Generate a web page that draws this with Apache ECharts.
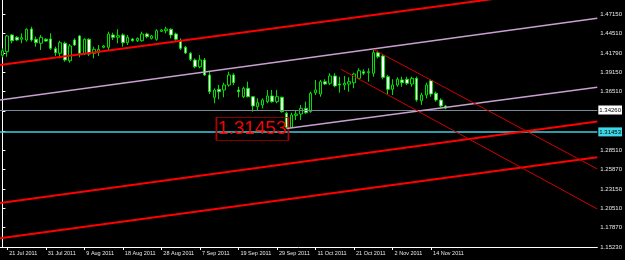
<!DOCTYPE html>
<html><head><meta charset="utf-8">
<script src="https://cdn.jsdelivr.net/npm/echarts@6/dist/echarts.min.js"></script>
<style>html,body{margin:0;padding:0;background:#000}#c{width:625px;height:260px}</style>
</head><body><div id="c"></div>
<script>
// ---- data ----
const dates = ['20 Jul 2011','21 Jul 2011','22 Jul 2011','24 Jul 2011','25 Jul 2011','26 Jul 2011','27 Jul 2011','28 Jul 2011','29 Jul 2011','31 Jul 2011',
'1 Aug 2011','2 Aug 2011','3 Aug 2011','4 Aug 2011','5 Aug 2011','7 Aug 2011','8 Aug 2011','9 Aug 2011','10 Aug 2011','11 Aug 2011','12 Aug 2011','14 Aug 2011','15 Aug 2011','16 Aug 2011','17 Aug 2011','18 Aug 2011','19 Aug 2011','21 Aug 2011','22 Aug 2011','23 Aug 2011','24 Aug 2011','25 Aug 2011','26 Aug 2011','28 Aug 2011','29 Aug 2011','30 Aug 2011','31 Aug 2011',
'1 Sep 2011','2 Sep 2011','5 Sep 2011','6 Sep 2011','7 Sep 2011','8 Sep 2011','9 Sep 2011','12 Sep 2011','13 Sep 2011','14 Sep 2011','15 Sep 2011','16 Sep 2011','19 Sep 2011','20 Sep 2011','21 Sep 2011','22 Sep 2011','23 Sep 2011','26 Sep 2011','27 Sep 2011','28 Sep 2011','29 Sep 2011','30 Sep 2011',
'3 Oct 2011','4 Oct 2011','5 Oct 2011','6 Oct 2011','7 Oct 2011','10 Oct 2011','11 Oct 2011','12 Oct 2011','13 Oct 2011','14 Oct 2011','17 Oct 2011','18 Oct 2011','19 Oct 2011','20 Oct 2011','21 Oct 2011','24 Oct 2011','25 Oct 2011','26 Oct 2011','27 Oct 2011','28 Oct 2011','31 Oct 2011',
'1 Nov 2011','2 Nov 2011','3 Nov 2011','4 Nov 2011','7 Nov 2011','8 Nov 2011','9 Nov 2011','10 Nov 2011','11 Nov 2011','14 Nov 2011','15 Nov 2011','16 Nov 2011','17 Nov 2011'];
const futureSlots = 31;
const xLabels = ['21 Jul 2011','31 Jul 2011','9 Aug 2011','18 Aug 2011','28 Aug 2011','7 Sep 2011','19 Sep 2011','29 Sep 2011','11 Oct 2011','21 Oct 2011','2 Nov 2011','14 Nov 2011'];
// [open, close, low, high]
const ohlc = [
[1.4149,1.4212,1.4122,1.4245],[1.4199,1.4414,1.4130,1.4428],[1.4428,1.4349,1.4314,1.4441],[1.4396,1.4359,1.4349,1.4414],
[1.4369,1.4391,1.4314,1.4450],[1.4359,1.4506,1.4336,1.4519],[1.4510,1.4359,1.4336,1.4541],[1.4369,1.4322,1.4267,1.4405],
[1.4314,1.4396,1.4222,1.4428],[1.4369,1.4345,1.4336,1.4382],[1.4373,1.4245,1.4222,1.4450],[1.4240,1.4185,1.4140,1.4267],
[1.4177,1.4322,1.4108,1.4349],[1.4314,1.4085,1.4062,1.4336],[1.4075,1.4277,1.4048,1.4304],[1.4359,1.4290,1.4277,1.4382],
[1.4414,1.4177,1.4122,1.4428],[1.4167,1.4369,1.4153,1.4382],[1.4369,1.4167,1.4140,1.4382],[1.4177,1.4231,1.4108,1.4267],
[1.4195,1.4231,1.4140,1.4290],[1.4259,1.4277,1.4245,1.4290],[1.4259,1.4441,1.4222,1.4473],[1.4428,1.4396,1.4359,1.4459],
[1.4396,1.4418,1.4314,1.4506],[1.4428,1.4322,1.4267,1.4450],[1.4322,1.4396,1.4290,1.4428],[1.4373,1.4349,1.4336,1.4386],
[1.4349,1.4382,1.4332,1.4393],[1.4349,1.4441,1.4336,1.4473],[1.4441,1.4405,1.4382,1.4459],[1.4382,1.4414,1.4366,1.4428],
[1.4369,1.4487,1.4349,1.4506],[1.4478,1.4496,1.4468,1.4506],[1.4487,1.4510,1.4450,1.4541],[1.4506,1.4428,1.4382,1.4519],
[1.4441,1.4369,1.4349,1.4459],[1.4349,1.4245,1.4222,1.4382],[1.4259,1.4181,1.4167,1.4277],[1.4177,1.4095,1.4071,1.4195],
[1.4085,1.3993,1.3971,1.4108],[1.3993,1.4085,1.3971,1.4153],[1.4085,1.3879,1.3866,1.4112],[1.3880,1.3651,1.3619,1.3925],
[1.3574,1.3674,1.3492,1.3697],[1.3684,1.3651,1.3547,1.3742],[1.3674,1.3742,1.3574,1.3774],[1.3742,1.3880,1.3719,1.3925],
[1.3880,1.3774,1.3742,1.3903],[1.3674,1.3651,1.3574,1.3719],[1.3582,1.3697,1.3564,1.3719],[1.3697,1.3582,1.3574,1.3788],
[1.3582,1.3455,1.3377,1.3592],[1.3445,1.3500,1.3400,1.3560],[1.3469,1.3537,1.3423,1.3560],[1.3514,1.3592,1.3492,1.3674],
[1.3592,1.3514,1.3500,1.3674],[1.3514,1.3582,1.3492,1.3674],[1.3574,1.3377,1.3363,1.3582],[1.3355,1.3163,1.31453,1.3377],
[1.3163,1.3332,1.3150,1.3363],[1.3327,1.3345,1.3263,1.3400],[1.3345,1.3423,1.3263,1.3469],[1.3423,1.3363,1.3345,1.3514],
[1.3377,1.3629,1.3363,1.3651],[1.3637,1.3674,1.3605,1.3811],[1.3619,1.3788,1.3582,1.3811],[1.3788,1.3756,1.3742,1.3821],
[1.3766,1.3866,1.3742,1.3903],[1.3866,1.3729,1.3711,1.3903],[1.3756,1.3742,1.3637,1.3856],[1.3742,1.3766,1.3674,1.3866],
[1.3756,1.3788,1.3651,1.3848],[1.3774,1.3893,1.3697,1.3911],[1.3834,1.3938,1.3821,1.3971],[1.3925,1.3903,1.3880,1.3957],
[1.3911,1.3925,1.3788,1.3971],[1.3903,1.4185,1.3856,1.4231],[1.4185,1.4130,1.4108,1.4212],[1.4140,1.3848,1.3821,1.4167],
[1.3856,1.3684,1.3605,1.3880],[1.3684,1.3742,1.3605,1.3821],[1.3742,1.3821,1.3719,1.3848],[1.3811,1.3774,1.3719,1.3856],
[1.3821,1.3766,1.3742,1.3856],[1.3756,1.3834,1.3719,1.3856],[1.3834,1.3537,1.3514,1.3856],[1.3527,1.3605,1.3469,1.3637],
[1.3605,1.3742,1.3560,1.3774],[1.3801,1.3619,1.3582,1.3821],[1.3629,1.3537,1.3514,1.3651],[1.3537,1.3455,1.3437,1.3560],
[1.3455,1.3426,1.3410,1.3469]];
const yTicks = [1.15230,1.17870,1.20510,1.23150,1.25870,1.28510,1.31150,1.33790,1.36510,1.39150,1.41790,1.44510,1.47150];
const yMin = 1.1523, yMax = 1.4907;
const lastPrice = 1.34260;
const lowPrice = 1.31453;
const lowLabel = '1.31453';
// trend lines: [bar index, price] endpoints
const redUpperChannel = [[-0.5,1.4017],[123.5,1.5112]];
const redMidChannel   = [[-0.5,1.2126],[123.5,1.3242]];
const redLowChannel   = [[-0.5,1.1642],[123.5,1.2752]];
const lilacUpper      = [[-0.5,1.3537],[123.5,1.4656]];
const lilacLower      = [[59,1.31453],[123.5,1.3711]];
const fallUpper       = [[77,1.4231],[123.5,1.2592]];
const fallLower       = [[70.3,1.3957],[123.5,1.2044]];
const lowTagPos = [51.9,1.3141];

// ---- chart ----
const cats = dates.concat(Array(futureSlots).fill(''));
const chart = echarts.init(document.getElementById('c'), null, {renderer:'canvas'});
const lineS = (d, color, w) => ({type:'line', xAxisIndex:1, data:d, symbol:'none', silent:true, z:5,
  lineStyle:{color:color, width:w}, animation:false});
const showLab = (i, v) => xLabels.indexOf(v) >= 0;
chart.setOption({
  backgroundColor:'#000',
  animation:false,
  grid:{left:0, right:25, top:0, bottom:13},
  xAxis:[{
    type:'category', data:cats, boundaryGap:true,
    axisLine:{lineStyle:{color:'#fff', width:1}},
    axisTick:{show:true, alignWithLabel:true, interval:showLab, length:3, lineStyle:{color:'#fff'}},
    axisLabel:{interval:showLab, align:'left', color:'#e8e8e8', fontSize:5.5, fontFamily:'Liberation Sans', margin:3, padding:[0,0,0,2]},
    splitLine:{show:false}
  },{
    type:'value', min:-0.5, max:123.5, show:false
  }],
  yAxis:{
    type:'value', position:'right', min:yMin, max:yMax, scale:true,
    axisLine:{show:true, lineStyle:{color:'#fff', width:1}},
    axisTick:{show:true, length:3, customValues:yTicks, lineStyle:{color:'#fff'}},
    axisLabel:{customValues:yTicks, color:'#e8e8e8', fontSize:6, fontFamily:'Liberation Sans', margin:3,
      formatter:v=>v.toFixed(5)},
    splitLine:{show:false}
  },
  series:[
    {type:'candlestick', data:ohlc, barWidth:3, z:3,
      itemStyle:{color:'#000', color0:'#fff', borderColor:'#00e000', borderColor0:'#00e000', borderWidth:1},
      markLine:{symbol:'none', silent:true, animation:false,
        data:[
          {yAxis:lastPrice, lineStyle:{color:'#7a8a99', width:1, type:'solid'},
            label:{show:true, position:'end', distance:1, formatter:lastPrice.toFixed(5), color:'#000', backgroundColor:'#fff', fontSize:6, fontFamily:'Liberation Sans', padding:[2,1,1,1]}},
          {yAxis:lowPrice, lineStyle:{color:'#3cd0e0', width:1.5, type:'solid'},
            label:{show:true, position:'end', distance:1, formatter:lowLabel, color:'#000', backgroundColor:'#3cd8e8', fontSize:6, fontFamily:'Liberation Sans', padding:[2,1,1,1]}}
        ]}
    },
    lineS(redUpperChannel,'#ff0000',2),
    lineS(redMidChannel,'#ff0000',2),
    lineS(redLowChannel,'#ff0000',2),
    lineS(lilacUpper,'#c8a0d0',1.5),
    lineS(lilacLower,'#c8a0d0',1.5),
    lineS(fallUpper,'#d00000',1),
    lineS(fallLower,'#d00000',1),
    {type:'line', xAxisIndex:1, data:[], symbol:'none', silent:true, z:6,
      markPoint:{silent:true, animation:false,
        data:[{coord:lowTagPos, symbol:'rect', symbolSize:[72,23],
          itemStyle:{color:'rgba(0,0,0,0)', borderColor:'#b00000', borderWidth:1, opacity:1},
          label:{show:true, position:'inside', formatter:lowLabel, color:'#ff0000', opacity:1, textBorderWidth:0, fontSize:19, fontFamily:'Liberation Sans'}}]}}
  ]
});
</script></body></html>
